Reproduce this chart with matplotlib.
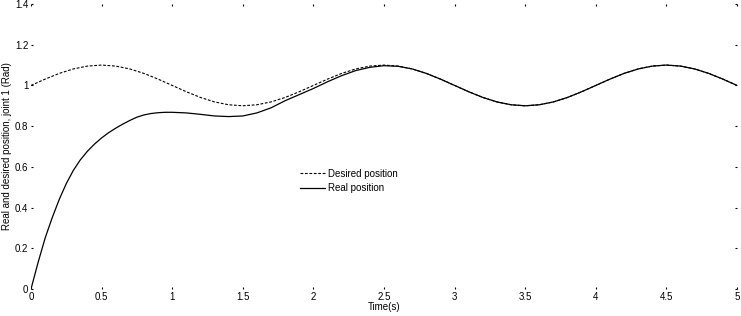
import matplotlib
matplotlib.use("Agg")
import matplotlib.pyplot as plt

# time axis for the desired trajectory, 0.1 s steps
time = [round(0.1 * i, 1) for i in range(51)]

# desired joint position (Rad)
desired = [1.000, 1.031, 1.059, 1.081, 1.095, 1.100, 1.095, 1.081, 1.059, 1.031,
           1.000, 0.969, 0.941, 0.919, 0.905, 0.900, 0.905, 0.919, 0.941, 0.969,
           1.000, 1.031, 1.059, 1.081, 1.095, 1.100, 1.095, 1.081, 1.059, 1.031,
           1.000, 0.969, 0.941, 0.919, 0.905, 0.900, 0.905, 0.919, 0.941, 0.969,
           1.000, 1.031, 1.059, 1.081, 1.095, 1.100, 1.095, 1.081, 1.059, 1.031,
           1.000]

# real joint position: 0.05 s steps up to 1 s, then 0.1 s steps
real_time = ([round(0.05 * i, 2) for i in range(20)]
             + [round(0.1 * i, 1) for i in range(10, 51)])
real = [0.000, 0.130, 0.250, 0.350, 0.440, 0.518, 0.583, 0.635, 0.677, 0.712,
        0.742, 0.768, 0.790, 0.810, 0.828, 0.844, 0.855, 0.862, 0.866, 0.868,
        0.868, 0.865, 0.858, 0.850, 0.847, 0.850, 0.865, 0.890, 0.925, 0.955,
        0.985, 1.018, 1.048, 1.073, 1.089, 1.097, 1.094, 1.081, 1.059, 1.031,
        1.000, 0.969, 0.941, 0.919, 0.905, 0.900, 0.905, 0.919, 0.941, 0.969,
        1.000, 1.031, 1.059, 1.081, 1.095, 1.100, 1.095, 1.081, 1.059, 1.031,
        1.000]

xticks = [0, 0.5, 1, 1.5, 2, 2.5, 3, 3.5, 4, 4.5, 5]
xlabels = ["0", "0.5", "1", "1.5", "2", "2.5", "3", "3.5", "4", "4.5", "5"]
yticks = [0, 0.2, 0.4, 0.6, 0.8, 1, 1.2, 1.4]
ylabels = ["0", "0.2", "0.4", "0.6", "0.8", "1", "1.2", "1.4"]

plt.rcParams['font.family'] = ['Liberation Sans', 'DejaVu Sans']

fig = plt.figure(figsize=(7.41, 3.16), dpi=100)
ax = fig.add_axes([31 / 741, 27 / 316, 706 / 741, 285 / 316])

ax.plot(time, desired, color="black", linestyle=(0, (2.5, 1.5)), linewidth=0.8,
        label="Desired position")
ax.plot(real_time, real, color="black", linestyle="-", linewidth=0.9,
        label="Real position")

ax.set_xlim(0, 5)
ax.set_ylim(0, 1.4)
ax.set_xticks(xticks)
ax.set_xticklabels(xlabels)
ax.set_yticks(yticks)
ax.set_yticklabels(ylabels)

# no box, only tiny tick marks on every side
for s in ax.spines.values():
    s.set_visible(False)
ax.tick_params(direction="in", length=1.5, width=0.8, labelsize=7,
               top=True, right=True, pad=2)

ax.set_xlabel("Time(s)", fontsize=7, labelpad=0)
ax.set_ylabel("Real and desired position, joint 1 (Rad)", fontsize=7, labelpad=2)

ax.legend(loc="upper left", bbox_to_anchor=(0.37, 0.45), frameon=False,
          fontsize=7, handlelength=2.6, handletextpad=0.3,
          labelspacing=0.5, borderpad=0.3)

fig.savefig("out.png", dpi=100)
